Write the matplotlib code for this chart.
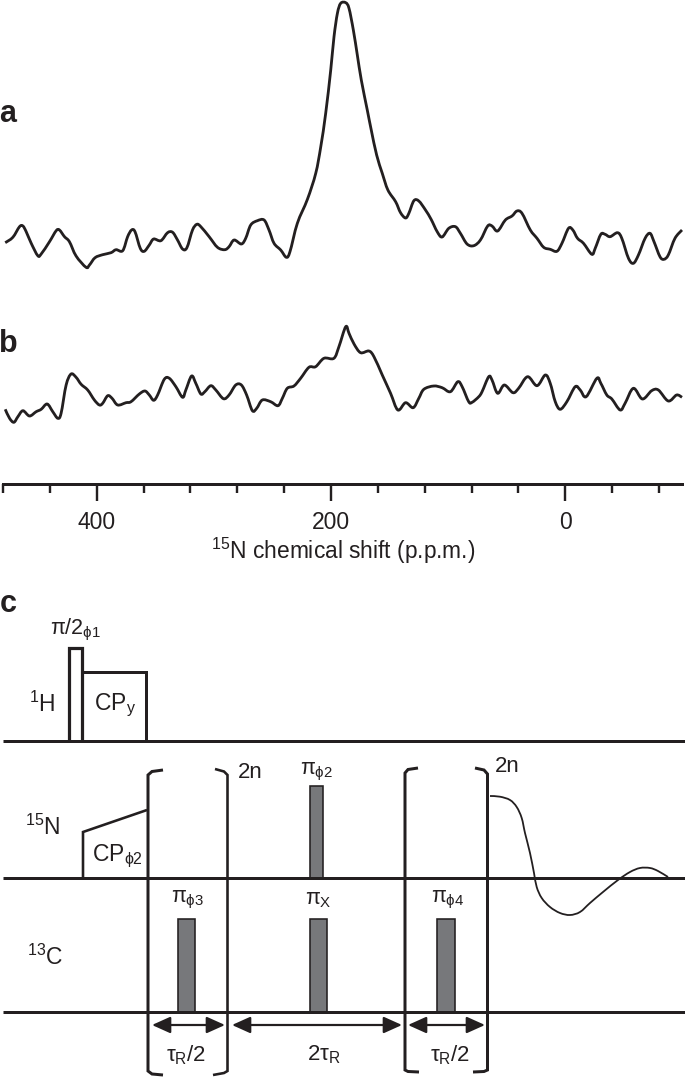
import numpy as np
import matplotlib
matplotlib.use('Agg')
import matplotlib.pyplot as plt
from matplotlib.patches import Rectangle, PathPatch
from matplotlib.path import Path

plt.rcParams['font.family'] = ['Liberation Sans', 'DejaVu Sans']
plt.rcParams['mathtext.fontset'] = 'custom'
plt.rcParams['mathtext.rm'] = 'Liberation Sans'
plt.rcParams['mathtext.it'] = 'Liberation Sans'
plt.rcParams['mathtext.bf'] = 'Liberation Sans:bold'

# spectrum a: chemical shift (ppm), signal height
shift_a = [478.1,471.6,465.9,463.0,460.2,455.9,450.3,447.4,440.3,434.6,431.8,427.5,423.3,417.6,409.1,406.2,401.4,394.9,387.8,383.5,
           377.8,373.6,370.2,367.3,362.8,359.4,355.1,351.4,345.2,339.5,335.2,331.0,326.7,323.0,318.2,314.5,311.1,304.0,296.9,290.7,
           287.0,282.7,276.5,272.8,268.5,262.8,257.1,252.9,248.6,242.9,238.1,235.0,228.7,220.1,213.0,208.7,204.5,200.2,197.4,194.5,
           191.7,187.4,184.6,180.9,177.5,174.1,169.0,165.6,161.0,156.2,151.4,144.8,140.6,136.3,133.5,129.2,125.0,119.3,114.5,109.3,
           105.1,99.4,93.7,89.5,83.8,78.1,72.4,66.2,62.5,57.7,51.1,45.4,41.2,36.9,29.8,24.1,18.4,12.8,7.1,2.8,
           -2.8,-6.5,-10.5,-15.6,-22.7,-25.6,-30.4,-34.0,-38.3,-44.6,-48.3,-54.0,-58.2,-62.5,-68.2,-72.4,-75.8,-80.9,-84.3,-88.0,
           -93.7,-99.7]
signal_a = [240.3,245.7,256.3,257.0,251.3,239.7,227.3,229.0,241.3,252.3,253.0,246.3,241.3,227.0,215.7,218.0,225.3,228.3,230.3,233.3,
            232.3,246.3,253.0,251.3,234.7,231.7,238.0,244.0,242.3,250.3,250.7,243.0,234.0,235.3,253.0,258.7,256.3,246.3,235.7,233.3,
            236.3,243.0,239.0,244.7,258.0,262.3,263.0,253.0,239.7,233.0,225.7,231.3,259.7,283.7,309.7,336.3,369.7,413.0,446.3,469.7,
            479.7,480.3,474.7,453.0,428.0,403.0,373.0,353.0,328.0,309.7,293.0,281.3,270.3,265.0,269.7,282.3,282.0,273.0,263.7,251.3,
            246.0,254.7,256.3,249.7,239.0,237.3,243.0,257.0,257.0,252.0,263.0,267.0,272.0,269.7,253.0,244.7,235.7,233.7,231.7,239.7,
            254.7,253.0,244.7,239.7,228.7,234.7,248.7,248.7,246.3,250.3,244.7,224.7,219.7,228.0,244.7,249.7,241.3,226.3,223.7,228.0,
            244.7,253.0]

# spectrum b
shift_b = [478.1,474.4,470.7,467.3,463.0,457.4,451.7,447.4,442.3,437.5,433.2,430.4,426.1,421.9,417.6,413.3,407.7,402.0,397.7,394.9,
           390.6,386.9,382.1,375.0,370.7,363.6,358.8,355.1,351.4,348.0,342.3,338.0,332.4,326.7,323.9,319.0,315.4,311.1,307.7,302.6,
           298.3,291.8,287.0,281.3,276.5,272.0,267.1,263.4,258.6,251.5,245.2,241.5,237.3,231.6,225.9,218.8,213.1,206.0,197.5,193.2,
           187.4,184.6,180.3,174.7,167.6,163.3,156.2,149.1,142.9,136.3,129.8,125.0,120.7,112.2,105.1,98.0,91.7,88.0,82.4,79.5,
           73.8,71.0,65.3,62.5,57.7,52.0,44.6,39.8,32.1,24.1,17.0,12.8,8.5,4.3,-1.4,-8.5,-12.8,-17.9,-27.0,-30.4,
           -35.5,-39.8,-46.9,-51.1,-58.2,-65.9,-73.8,-79.5,-88.0,-95.1,-99.7]
signal_b = [73.7,64.7,60.7,66.3,72.3,67.0,71.3,73.7,79.0,71.3,64.7,69.7,98.0,109.0,105.7,98.7,93.0,83.0,78.0,79.7,
            87.3,84.7,78.0,80.3,81.3,89.0,92.0,88.0,82.7,88.0,103.7,104.7,96.3,85.7,93.0,107.0,99.7,89.0,91.3,97.3,
            93.0,84.3,88.0,98.0,98.0,88.0,72.3,74.7,83.0,81.3,77.3,84.7,94.7,97.0,104.7,115.7,116.3,124.7,124.7,136.3,
            156.3,149.7,139.0,130.3,132.0,126.3,108.0,89.7,73.0,80.3,75.3,84.7,93.7,97.0,95.3,91.3,101.3,96.3,81.3,80.7,
            86.3,91.3,106.3,103.0,89.7,98.0,90.3,94.7,106.3,97.3,108.0,99.7,81.3,73.7,81.3,96.3,93.0,86.3,104.7,99.7,
            88.0,84.0,73.0,79.7,94.7,84.0,92.3,93.0,82.0,88.0,85.7]

major_ticks = [400, 200, 0]
minor_ticks = [480, 440, 360, 320, 280, 240, 160, 120, 80, 40, -40, -80]

# decay curve drawn on the 15N channel of the sequence
fid_x = [490,500,510,516.7,521.7,525,530,534,536.7,541.7,550,560,570,580,590,603,618,630,640,650,658,668]
fid_row = [796,796.7,800,807,818,833,853,873,887,898,907,913,915,912,903,892,880,872,868,868,871,877]

W, H = 685, 1078
INK = '#231f20'
GREY = '#77787b'
px = 0.72


def smooth(xs, ys):
    # bezier through the read points, so the trace is not a polyline
    p = np.column_stack([xs, ys])
    q = np.vstack([p[0], p, p[-1]])
    verts = [p[0]]
    codes = [Path.MOVETO]
    for i in range(1, len(q)-2):
        verts += [q[i] + (q[i+1]-q[i-1])/6, q[i+1] - (q[i+2]-q[i])/6, q[i+1]]
        codes += [Path.CURVE4]*3
    return Path(verts, codes)


fig = plt.figure(figsize=(W/100, H/100), dpi=100)

# spectra
axis_row = 484
ax = fig.add_axes([3/W, 1-axis_row/H, 679/W, axis_row/H])
ax.set_xlim((565-3)/1.1735, (565-682)/1.1735)
ax.set_ylim(483-axis_row, 483)
for xs, ys in [(shift_a, signal_a), (shift_b, signal_b)]:
    ax.add_patch(PathPatch(smooth(xs, ys), fill=False, ec=INK, lw=2.8*px, joinstyle='round', clip_on=False))
for s in ['top', 'left', 'right']:
    ax.spines[s].set_visible(False)
ax.spines['bottom'].set_linewidth(3*px)
ax.spines['bottom'].set_color(INK)
ax.set_yticks([])
ax.set_xticks(major_ticks)
ax.set_xticks(minor_ticks, minor=True)
ax.tick_params(axis='x', which='major', length=17*px, width=2.4*px, color=INK, labelsize=16.5, labelcolor=INK, pad=7)
ax.tick_params(axis='x', which='minor', length=9*px, width=2.4*px, color=INK)
ax.patch.set_alpha(0)

# everything of panel c is laid out in image pixels
sq = fig.add_axes([0, 0, 1, 1], zorder=3)
sq.set_xlim(0, W)
sq.set_ylim(H, 0)
sq.axis('off')


def line(xs, ys, w=3):
    sq.plot(xs, ys, color=INK, lw=w*px, solid_capstyle='butt', solid_joinstyle='miter')


def label(x, y, s, size=16, **kw):
    sq.text(x, y, s, fontsize=size, color=INK, ha='center', va='center', **kw)


def pulse(x0, x1, top, base):
    sq.add_patch(Rectangle((x0, top), x1-x0, base-top, fc=GREY, ec=INK, lw=1.6*px))


def arrow(x0, x1, y):
    sq.annotate('', xy=(x1, y), xytext=(x0, y),
                arrowprops=dict(arrowstyle='<|-|>,head_length=0.8,head_width=0.36', color=INK, lw=2.2*px,
                                shrinkA=0, shrinkB=0, mutation_scale=14))


# panel letters
label(8, 114, 'a', 22, fontweight='bold')
label(8, 344, 'b', 22, fontweight='bold')
label(8, 604, 'c', 22, fontweight='bold')

# x axis title
label(343, 551, r'$^{15}$N chemical shift (p.p.m.)', 16.4)

# channels
for row in [741, 878, 1012]:
    line([3, 685], [row, row], 3)

# 1H
line([69, 69, 82, 82], [741, 648, 648, 741], 3.2)
line([83, 146, 146], [672, 672, 741], 3)

# 15N cross polarisation ramp
line([83, 83, 147], [878, 832, 810], 2.6)

# brackets
line([163, 152, 148, 148, 152, 163], [770, 771.5, 775, 1071, 1074, 1075], 3)
line([215, 224, 227.5, 227.5, 224, 213], [769, 771.5, 775, 1071, 1073, 1075], 2.6)
line([418, 408, 405, 405, 408, 419], [768, 769.5, 773, 1070, 1071.5, 1072], 3)
line([475, 484, 487.5, 487.5, 484, 473], [768, 770, 774, 1070, 1071.5, 1072], 3)

# pi pulses
pulse(310, 323, 786, 878)
pulse(178, 195, 919, 1012)
pulse(310, 327, 919, 1012)
pulse(437, 455, 919, 1012)

# fid
sq.add_patch(PathPatch(smooth(fid_x, fid_row), fill=False, ec=INK, lw=1.8*px))

# delays
arrow(152, 225, 1025)
arrow(232, 402, 1025)
arrow(408, 485, 1025)

label(42, 704, r'$^{1}$H', 16.5)
label(43, 827, r'$^{15}$N', 16.5)
label(45, 957, r'$^{13}$C', 16.5)
label(76, 630, r'$\pi/2_{\phi 1}$', 15.5)
label(115, 705, r'CP$_{\mathrm{y}}$', 16.5)
label(117, 856, r'CP$_{\phi 2}$', 16.5)
label(250, 772, '2n', 16)
label(507, 767, '2n', 16)
label(316, 772, r'$\pi_{\phi 2}$', 15.5)
label(187, 900, r'$\pi_{\phi 3}$', 15.5)
label(318, 900, r'$\pi_{\mathrm{X}}$', 15.5)
label(448, 900, r'$\pi_{\phi 4}$', 15.5)
label(186, 1055, r'$\tau_{\mathrm{R}}/2$', 16)
label(324, 1055, r'$2\tau_{\mathrm{R}}$', 16)
label(450, 1055, r'$\tau_{\mathrm{R}}/2$', 16)

fig.savefig('out.png', dpi=100)
